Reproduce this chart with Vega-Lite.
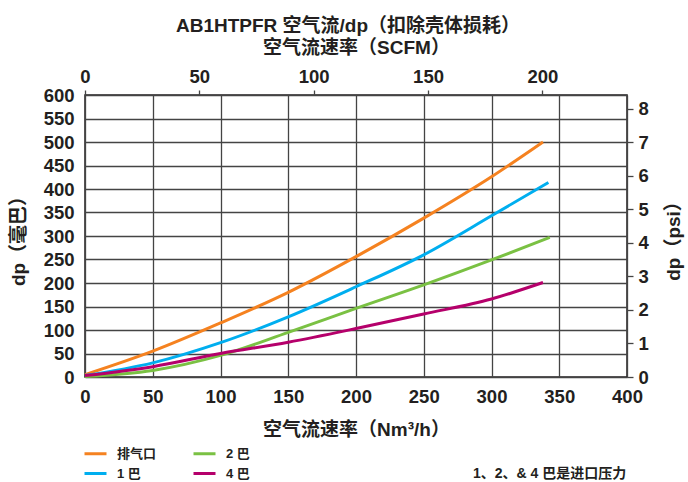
{
  "$schema": "https://vega.github.io/schema/vega-lite/v6.json",
  "width": 542,
  "height": 282,
  "autosize": {"type": "none"},
  "padding": {"left": 85, "top": 95, "right": 61, "bottom": 105},
  "background": "white",
  "title": {
    "text": "AB1HTPFR 空气流/dp（扣除壳体损耗）",
    "font": "Liberation Sans, Noto Sans CJK SC",
    "fontSize": 19,
    "fontWeight": "bold",
    "color": "#231f20",
    "anchor": "middle",
    "dx": -8,
    "offset": 2
  },
  "datasets": {
    "flow": [
      {"nm3h": 0, "dp": 5, "series": "排气口"},
      {"nm3h": 50, "dp": 55, "series": "排气口"},
      {"nm3h": 100, "dp": 115, "series": "排气口"},
      {"nm3h": 150, "dp": 180, "series": "排气口"},
      {"nm3h": 200, "dp": 256, "series": "排气口"},
      {"nm3h": 250, "dp": 338, "series": "排气口"},
      {"nm3h": 300, "dp": 426, "series": "排气口"},
      {"nm3h": 338, "dp": 500, "series": "排气口"},
      {"nm3h": 0, "dp": 3, "series": "1 巴"},
      {"nm3h": 50, "dp": 30, "series": "1 巴"},
      {"nm3h": 100, "dp": 73, "series": "1 巴"},
      {"nm3h": 150, "dp": 128, "series": "1 巴"},
      {"nm3h": 200, "dp": 192, "series": "1 巴"},
      {"nm3h": 250, "dp": 260, "series": "1 巴"},
      {"nm3h": 300, "dp": 343, "series": "1 巴"},
      {"nm3h": 342, "dp": 414, "series": "1 巴"},
      {"nm3h": 0, "dp": 1, "series": "2 巴"},
      {"nm3h": 50, "dp": 14, "series": "2 巴"},
      {"nm3h": 100, "dp": 46, "series": "2 巴"},
      {"nm3h": 150, "dp": 95, "series": "2 巴"},
      {"nm3h": 200, "dp": 146, "series": "2 巴"},
      {"nm3h": 250, "dp": 196, "series": "2 巴"},
      {"nm3h": 300, "dp": 249, "series": "2 巴"},
      {"nm3h": 343, "dp": 297, "series": "2 巴"},
      {"nm3h": 0, "dp": 3, "series": "4 巴"},
      {"nm3h": 50, "dp": 22, "series": "4 巴"},
      {"nm3h": 100, "dp": 50, "series": "4 巴"},
      {"nm3h": 150, "dp": 74, "series": "4 巴"},
      {"nm3h": 200, "dp": 103, "series": "4 巴"},
      {"nm3h": 250, "dp": 134, "series": "4 巴"},
      {"nm3h": 300, "dp": 166, "series": "4 巴"},
      {"nm3h": 338, "dp": 201, "series": "4 巴"}
    ],
    "scfm": [{"scfm": 0}, {"scfm": 200}],
    "psi": [{"psi": 0}, {"psi": 8}]
  },
  "layer": [
    {
      "data": {"name": "flow"},
      "mark": {"type": "line", "strokeWidth": 3, "interpolate": "monotone"},
      "encoding": {
        "x": {
          "field": "nm3h",
          "type": "quantitative",
          "scale": {"domain": [0, 400], "nice": false},
          "axis": {
            "orient": "bottom",
            "values": [0, 50, 100, 150, 200, 250, 300, 350, 400],
            "title": "空气流速率（Nm³/h）",
            "grid": true,
            "ticks": false,
            "labelFlush": false,
            "labelPadding": 10,
            "titlePadding": 15
          }
        },
        "y": {
          "field": "dp",
          "type": "quantitative",
          "scale": {"domain": [0, 600], "nice": false},
          "axis": {
            "orient": "left",
            "values": [0, 50, 100, 150, 200, 250, 300, 350, 400, 450, 500, 550, 600],
            "title": "dp（毫巴）",
            "grid": true,
            "ticks": false,
            "labelFlush": false,
            "labelPadding": 11,
            "titlePadding": 15
          }
        },
        "color": {
          "field": "series",
          "type": "nominal",
          "scale": {
            "domain": ["排气口", "2 巴", "1 巴", "4 巴"],
            "range": ["#f58220", "#7ac143", "#00aeef", "#b5006b"]
          },
          "legend": {
            "orient": "none",
            "legendX": -2,
            "legendY": 346,
            "columns": 2,
            "direction": "horizontal",
            "symbolType": "stroke",
            "symbolSize": 484,
            "symbolStrokeWidth": 3,
            "labelFont": "Liberation Sans, Noto Sans CJK SC",
            "labelFontSize": 13,
            "labelFontWeight": "bold",
            "labelColor": "#231f20",
            "labelOffset": 9,
            "columnPadding": 30,
            "rowPadding": -4,
            "title": "1、2、& 4 巴是进口压力",
            "titleOrient": "right",
            "titleAnchor": "end",
            "titleBaseline": "bottom",
            "titlePadding": 223,
            "titleFont": "Liberation Sans, Noto Sans CJK SC",
            "titleFontSize": 14,
            "titleFontWeight": "bold",
            "titleColor": "#231f20"
          }
        }
      }
    },
    {
      "data": {"name": "scfm"},
      "mark": {"type": "point", "opacity": 0},
      "encoding": {
        "x": {
          "field": "scfm",
          "type": "quantitative",
          "scale": {"domain": [0, 237], "nice": false},
          "axis": {
            "orient": "top",
            "values": [0, 50, 100, 150, 200],
            "title": "空气流速率（SCFM）",
            "grid": false,
            "ticks": true,
            "tickSize": 5,
            "labelFlush": false,
            "labelPadding": 4,
            "titlePadding": 10
          }
        }
      }
    },
    {
      "data": {"name": "psi"},
      "mark": {"type": "point", "opacity": 0},
      "encoding": {
        "y": {
          "field": "psi",
          "type": "quantitative",
          "scale": {"domain": [0, 8.41], "nice": false},
          "axis": {
            "orient": "right",
            "values": [0, 1, 2, 3, 4, 5, 6, 7, 8],
            "title": "dp（psi）",
            "titleAngle": 270,
            "titleBaseline": "top",
            "grid": false,
            "ticks": true,
            "tickSize": 6,
            "labelFlush": false,
            "labelPadding": 5,
            "titlePadding": 16
          }
        }
      }
    }
  ],
  "resolve": {"scale": {"x": "independent", "y": "independent"}},
  "config": {
    "view": {"stroke": "#231f20", "strokeWidth": 1.5},
    "axis": {
      "domain": false,
      "labelFont": "Liberation Sans, Noto Sans CJK SC",
      "labelFontSize": 18.5,
      "labelFontWeight": "bold",
      "labelColor": "#231f20",
      "titleFont": "Liberation Sans, Noto Sans CJK SC",
      "titleFontSize": 19,
      "titleFontWeight": "bold",
      "titleColor": "#231f20",
      "gridColor": "#444444",
      "gridWidth": 1.3,
      "gridOpacity": 1,
      "tickColor": "#444444",
      "tickWidth": 1.3
    }
  }
}
